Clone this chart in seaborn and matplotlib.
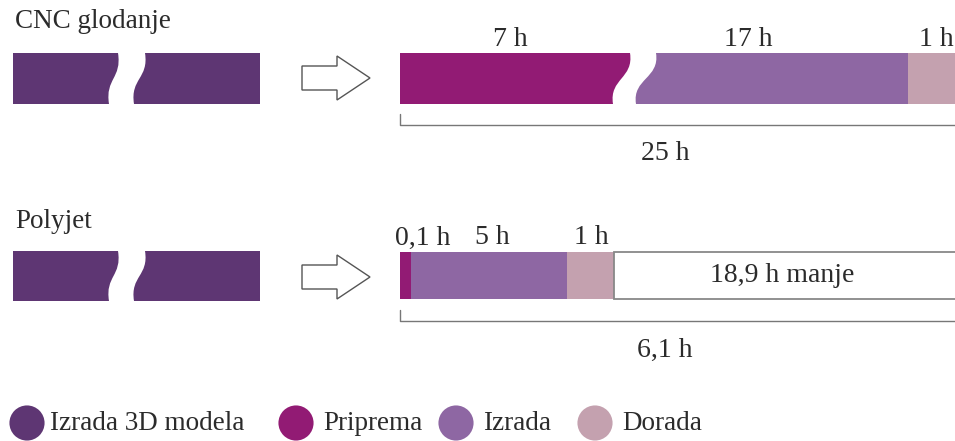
import matplotlib
matplotlib.use("Agg")
import matplotlib.pyplot as plt
from matplotlib.path import Path
from matplotlib.patches import PathPatch, Rectangle, Polygon
import seaborn as sns
import pandas as pd

# ---------------- data ----------------
stages = ["Izrada 3D modela", "Priprema", "Izrada", "Dorada"]
stage_colors = ["#5E3673", "#921B74", "#8E67A3", "#C4A1AF"]
methods = ["CNC glodanje", "Polyjet"]
cnc_hours = [7, 17, 1]          # Priprema, Izrada, Dorada
polyjet_hours = [0.1, 5, 1]     # Priprema, Izrada, Dorada

def fmt(v):
    s = f"{v:g}".replace(".", ",")
    return f"{s} h"

cnc_total = round(sum(cnc_hours), 1)
poly_total = round(sum(polyjet_hours), 1)
saving = round(cnc_total - poly_total, 1)

# ---------------- layout (pixel coords) ----------------
W, H = 955, 441
sns.set_theme(style="white")
plt.rcParams["font.family"] = ["Liberation Serif", "DejaVu Serif"]
TXT = "#2b2b2b"
FS = 20

fig = plt.figure(figsize=(W / 100, H / 100), dpi=100)
ax = fig.add_axes([0, 0, 1, 1])
ax.set_xlim(0, W)
ax.set_ylim(H, 0)
ax.axis("off")


def s_curve(xt, xb, top, bot, bulge=4):
    h = bot - top
    return [(xt, top), (xt + bulge, top + 0.5 * h), (xb - bulge, top + 0.5 * h), (xb, bot)]


def left_piece(x0, xt, xb, top, bot, color):
    c = s_curve(xt, xb, top, bot)
    verts = [(x0, top), c[0], c[1], c[2], c[3], (x0, bot), (x0, top)]
    codes = [Path.MOVETO, Path.LINETO, Path.CURVE4, Path.CURVE4, Path.CURVE4,
             Path.LINETO, Path.CLOSEPOLY]
    ax.add_patch(PathPatch(Path(verts, codes), facecolor=color, edgecolor="none"))


def right_piece(xt, xb, x1, top, bot, color):
    c = s_curve(xt, xb, top, bot)
    verts = [c[0], c[1], c[2], c[3], (x1, bot), (x1, top), c[0]]
    codes = [Path.MOVETO, Path.CURVE4, Path.CURVE4, Path.CURVE4,
             Path.LINETO, Path.LINETO, Path.CLOSEPOLY]
    ax.add_patch(PathPatch(Path(verts, codes), facecolor=color, edgecolor="none"))


def arrow(yc):
    pts = [(302, yc - 12), (337, yc - 12), (337, yc - 22), (370, yc),
           (337, yc + 22), (337, yc + 12), (302, yc + 12)]
    ax.add_patch(Polygon(pts, closed=True, facecolor="white", edgecolor="#555555", lw=1.0))


def model_bar(top, bot):
    left_piece(13, 118, 109, top, bot, stage_colors[0])
    right_piece(145, 134, 260, top, bot, stage_colors[0])


def bracket(y, label, label_x, label_y):
    ax.plot([400, 400, W + 5], [y - 11, y, y], color="#777777", lw=1.0, clip_on=False)
    ax.text(label_x, label_y, label, ha="center", va="center", fontsize=FS, color=TXT)


# ---- CNC row ----
top1, bot1 = 53, 104
ax.text(15, 22, methods[0], ha="left", va="center", fontsize=19.5, color=TXT)
model_bar(top1, bot1)
arrow(78)
left_piece(400, 630, 613, top1, bot1, stage_colors[1])
right_piece(656, 636, 908, top1, bot1, stage_colors[2])
ax.add_patch(Rectangle((908, top1), W + 10 - 908, bot1 - top1, facecolor=stage_colors[3],
                       edgecolor="none", clip_on=False))
for lbl, xc in zip([fmt(v) for v in cnc_hours], [510, 748, 936]):
    ax.text(xc, 39, lbl, ha="center", va="center", fontsize=FS, color=TXT)
bracket(125, fmt(cnc_total), 665, 154)

# ---- Polyjet row ----
top2, bot2 = 252, 299
ax.text(15, 222, methods[1], ha="left", va="center", fontsize=19.5, color=TXT)
model_bar(251, 301)
arrow(277)
edges = [400, 411, 567, 614]
for i in range(3):
    ax.add_patch(Rectangle((edges[i], top2), edges[i + 1] - edges[i], bot2 - top2,
                           facecolor=stage_colors[i + 1], edgecolor="none"))
ax.add_patch(Rectangle((edges[3], top2), W + 20 - edges[3], bot2 - top2, facecolor="white",
                       edgecolor="#888888", lw=1.3, clip_on=False))
ax.text(782, 276, f"{fmt(saving)} manje", ha="center", va="center", fontsize=FS, color=TXT)
for lbl, xc in zip([fmt(v) for v in polyjet_hours], [423, 492, 591]):
    ax.text(xc, 238, lbl, ha="center", va="center", fontsize=FS, color=TXT)
bracket(321, fmt(poly_total), 665, 350)

# ---- legend ----
leg_x = [27, 296, 456, 595]
leg_text_x = [50, 323, 483, 622]
leg_df = pd.DataFrame({"x": leg_x, "y": [423] * 4, "stage": stages})
sns.scatterplot(data=leg_df, x="x", y="y", hue="stage", palette=stage_colors,
                s=640, marker="o", edgecolor="none", legend=False, ax=ax)
ax.set_xlim(0, W)
ax.set_ylim(H, 0)
ax.axis("off")
for name, tx in zip(stages, leg_text_x):
    ax.text(tx, 424, name, ha="left", va="center", fontsize=19.5, color=TXT)

fig.savefig("out.png", dpi=100)
